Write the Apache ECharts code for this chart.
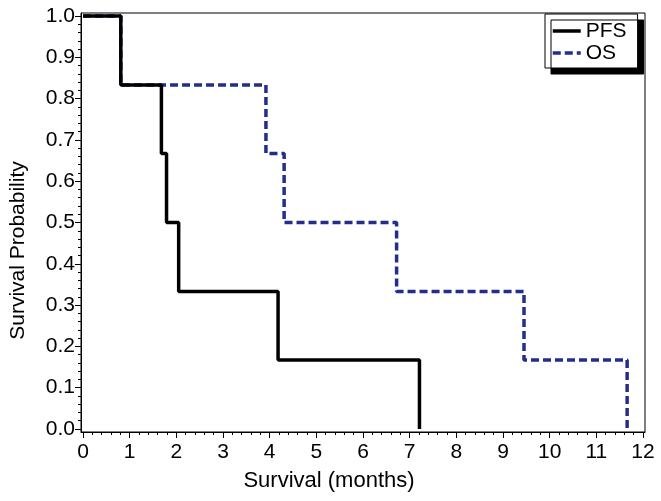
<!DOCTYPE html>
<html>
<head>
<meta charset="utf-8">
<script src="https://cdn.jsdelivr.net/npm/echarts@6/dist/echarts.min.js"></script>
<style>html,body{margin:0;padding:0;background:#fff;}#c{width:661px;height:501px;}</style>
</head>
<body>
<div id="c"></div>
<script>
// Kaplan-Meier step data (time in months, survival probability)
var pfsTimes = [0, 0.81, 1.68, 1.79, 2.05, 4.18, 7.21];
var pfsSurv  = [1.0, 0.833, 0.667, 0.5, 0.333, 0.167, 0.0];
var osTimes  = [0, 0.81, 3.92, 4.31, 6.72, 9.45, 11.66];
var osSurv   = [1.0, 0.833, 0.667, 0.5, 0.333, 0.167, 0.0];

var xTicks = [0,1,2,3,4,5,6,7,8,9,10,11,12];
var yTicks = [0.0,0.1,0.2,0.3,0.4,0.5,0.6,0.7,0.8,0.9,1.0];
var xMinorTicks = [];
for (var i = 0; i < 12; i++) { for (var k = 1; k < 5; k++) xMinorTicks.push(i + k * 0.2); }
var yMinorTicks = [];
for (var j = 0; j < 10; j++) { for (var m = 1; m < 5; m++) yMinorTicks.push(j / 10 + m * 0.02); }

function zip(a, b) { return a.map(function (v, i) { return [v, b[i]]; }); }

var FONT = 'Liberation Sans, Arial, Helvetica, sans-serif';
var chart = echarts.init(document.getElementById('c'), null, {renderer: 'canvas'});
var xMin = -0.043, xMax = 12.043, yMin = -0.0073, yMax = 1.0073;
chart.setOption({
  animation: false,
  backgroundColor: '#fff',
  grid: {left: 78, right: 16, top: 13, bottom: 69, show: true, borderColor: '#000', borderWidth: 1, containLabel: false},
  legend: {
    left: 545, top: 14, orient: 'vertical',
    itemWidth: 28, itemHeight: 22, itemGap: 0,
    padding: [6, 11, 4, 6],
    backgroundColor: '#fff', borderColor: '#000', borderWidth: 1,
    shadowColor: '#000', shadowBlur: 0, shadowOffsetX: 6, shadowOffsetY: 6,
    itemStyle: {opacity: 0, borderWidth: 0},
    lineStyle: {width: 3.5},
    textStyle: {fontFamily: FONT, fontSize: 21, color: '#000', lineHeight: 22},
    data: ['PFS', 'OS']
  },
  xAxis: [{
    type: 'value', min: xMin, max: xMax, position: 'bottom',
    name: 'Survival (months)', nameLocation: 'middle', nameGap: 38,
    nameTextStyle: {fontFamily: FONT, fontSize: 22, color: '#000', padding: [0, 68, 0, 0]},
    axisLine: {show: true, onZero: false, lineStyle: {color: '#000', width: 1}},
    axisTick: {show: true, customValues: xTicks, length: 6, lineStyle: {color: '#000', width: 1}},
    axisLabel: {customValues: xTicks, fontFamily: FONT, fontSize: 21, color: '#000', margin: 10},
    splitLine: {show: false}
  }, {
    type: 'value', min: xMin, max: xMax, position: 'bottom', offset: 0,
    axisLine: {show: false, onZero: false},
    axisTick: {show: true, customValues: xMinorTicks, length: 3, lineStyle: {color: '#000', width: 1}},
    axisLabel: {show: false},
    splitLine: {show: false}
  }],
  yAxis: [{
    type: 'value', min: yMin, max: yMax, position: 'left',
    name: 'Survival Probability', nameLocation: 'middle', nameGap: 52,
    nameTextStyle: {fontFamily: FONT, fontSize: 21, color: '#000', padding: [0, 56, 0, 0]},
    axisLine: {show: true, onZero: false, lineStyle: {color: '#000', width: 1}},
    axisTick: {show: true, customValues: yTicks, length: 6, lineStyle: {color: '#000', width: 1}},
    axisLabel: {customValues: yTicks, fontFamily: FONT, fontSize: 21, color: '#000', margin: 6,
      formatter: function (v) { return v.toFixed(1); }},
    splitLine: {show: false}
  }, {
    type: 'value', min: yMin, max: yMax, position: 'left', offset: 0,
    axisLine: {show: false, onZero: false},
    axisTick: {show: true, customValues: yMinorTicks, length: 3, lineStyle: {color: '#000', width: 1}},
    axisLabel: {show: false},
    splitLine: {show: false}
  }],
  series: [{
    name: 'OS', type: 'line', step: 'end', symbol: 'none',
    xAxisIndex: 0, yAxisIndex: 0,
    lineStyle: {color: '#232d8c', width: 3.5, type: [8, 4]},
    itemStyle: {color: '#232d8c'},
    data: zip(osTimes, osSurv), z: 2
  }, {
    name: 'PFS', type: 'line', step: 'end', symbol: 'none',
    xAxisIndex: 0, yAxisIndex: 0,
    lineStyle: {color: '#000', width: 3.5, type: 'solid'},
    itemStyle: {color: '#000'},
    data: zip(pfsTimes, pfsSurv), z: 3
  }]
});
</script>
</body>
</html>
